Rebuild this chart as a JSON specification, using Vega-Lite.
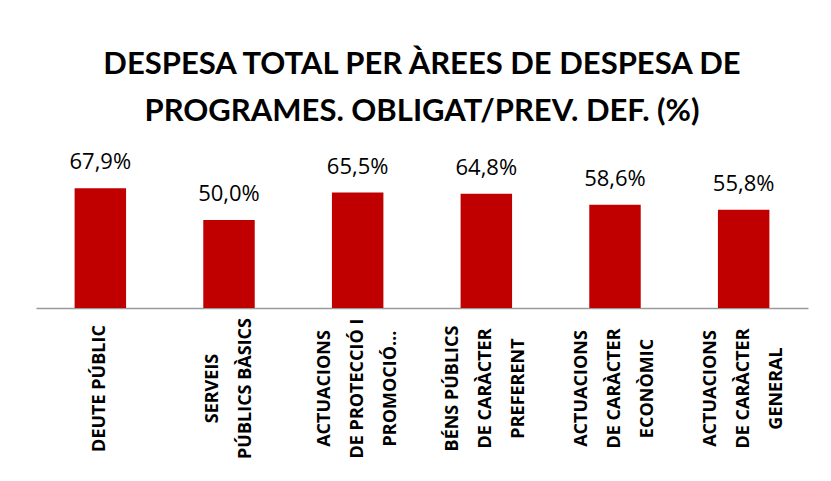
{
  "$schema": "https://vega.github.io/schema/vega-lite/v6.json",
  "width": 772,
  "height": 141,
  "autosize": {"type": "none"},
  "padding": {"left": 36, "top": 167, "right": 23, "bottom": 173},
  "background": "white",
  "config": {
    "view": {"stroke": null},
    "locale": {"number": {"decimal": ",", "thousands": ".", "grouping": [3], "currency": ["", " €"]}}
  },
  "title": {
    "text": ["DESPESA TOTAL PER ÀREES DE DESPESA DE", "PROGRAMES. OBLIGAT/PREV. DEF. (%)"],
    "font": "Lato",
    "fontWeight": "bold",
    "fontSize": 31,
    "lineHeight": 47,
    "color": "#000000",
    "anchor": "middle",
    "offset": 23
  },
  "data": {
    "values": [
      {"area": "DEUTE PÚBLIC", "valor": 0.679},
      {"area": "SERVEIS|PÚBLICS BÀSICS", "valor": 0.500},
      {"area": "ACTUACIONS|DE PROTECCIÓ I|PROMOCIÓ…", "valor": 0.655},
      {"area": "BÉNS PÚBLICS|DE CARÀCTER|PREFERENT", "valor": 0.648},
      {"area": "ACTUACIONS|DE CARÀCTER|ECONÒMIC", "valor": 0.586},
      {"area": "ACTUACIONS|DE CARÀCTER|GENERAL", "valor": 0.558}
    ]
  },
  "encoding": {
    "x": {
      "field": "area",
      "type": "nominal",
      "sort": null,
      "scale": {"paddingInner": 0.6, "paddingOuter": 0.3},
      "axis": {
        "title": null,
        "labelAngle": -90,
        "labelAlign": "center",
        "labelBaseline": "middle",
        "labelExpr": "split(datum.label, '|')",
        "labelFont": "Open Sans",
        "labelFontWeight": "bold",
        "labelFontSize": 18,
        "labelLineHeight": 33,
        "labelColor": "#000000",
        "labelPadding": 80,
        "labelOffset": {
          "condition": [
            {"test": "length(split(datum.value, '|')) == 3", "value": -33},
            {"test": "length(split(datum.value, '|')) == 2", "value": -16.5}
          ],
          "value": 0
        },
        "labelOverlap": false,
        "labelLimit": 0,
        "ticks": false,
        "tickSize": 0,
        "domainColor": "#9a9a9a",
        "domainWidth": 1.5
      }
    },
    "y": {
      "field": "valor",
      "type": "quantitative",
      "scale": {"domain": [0, 0.8]},
      "axis": null
    }
  },
  "layer": [
    {"mark": {"type": "bar", "color": "#C00000"}},
    {
      "mark": {"type": "text", "baseline": "alphabetic", "dy": -19, "font": "Open Sans", "fontSize": 22, "color": "#000000"},
      "encoding": {"text": {"field": "valor", "type": "quantitative", "format": ".1%"}}
    }
  ]
}
